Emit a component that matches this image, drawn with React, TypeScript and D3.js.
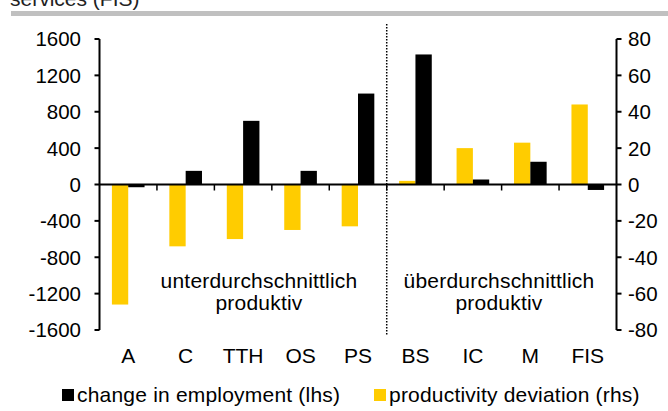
import React from "react";
import * as d3 from "d3";

const categories = ["A", "C", "TTH", "OS", "PS", "BS", "IC", "M", "FIS"];
const employment = [-30, 150, 700, 150, 1000, 1430, 55, 250, -60];
const productivity = [-66, -34, -30, -25, -23, 2, 20, 23, 44];
const leftTicks = [-1600, -1200, -800, -400, 0, 400, 800, 1200, 1600];
const rightTicks = [-80, -60, -40, -20, 0, 20, 40, 60, 80];
const seriesNames = ["productivity", "employment"];
const legendLabels = ["change in employment (lhs)", "productivity deviation (rhs)"];
const groupLabels = [
  ["unterdurchschnittlich", "produktiv"],
  ["überdurchschnittlich", "produktiv"],
];
const topTitle = "services (FIS)";

const W = 668;
const H = 411;
const FONT = "'Liberation Sans', Arial, sans-serif";
const YELLOW = "#FFCC00";

export default function App() {
  const x0 = d3.scaleBand<string>().domain(categories).range([99.5, 616.5]).paddingInner(0).paddingOuter(0);
  const x1 = d3.scaleBand<string>().domain(seriesNames).range([0, x0.bandwidth()]).paddingInner(0).paddingOuter(0.76);
  const yL = d3.scaleLinear().domain([-1600, 1600]).range([330, 39]);
  const yR = d3.scaleLinear().domain([-80, 80]).range([330, 39]);
  const zero = yL(0);
  const left = x0.range()[0];
  const right = x0.range()[1];
  const divider = x0("BS") as number;

  return (
    <svg width={W} height={H} style={{ position: "absolute", left: 0, top: 0, background: "#fff" }} fontFamily={FONT}>
      <text x={10} y={6} fontSize={21} fill="#222">{topTitle}</text>
      <rect x={11} y={11} width={W - 11} height={5} fill="#C0C0C0" />

      {/* bars */}
      {categories.map((c, i) => {
        const bx = x0(c) as number;
        const py = yR(productivity[i]);
        const ey = yL(employment[i]);
        return (
          <g key={c}>
            <rect x={bx + (x1("productivity") as number)} width={x1.bandwidth()} y={Math.min(py, zero)} height={Math.abs(py - zero)} fill={YELLOW} />
            <rect x={bx + (x1("employment") as number)} width={x1.bandwidth()} y={Math.min(ey, zero)} height={Math.abs(ey - zero)} fill="#000" />
          </g>
        );
      })}

      {/* zero line and category ticks */}
      <line x1={left} x2={right} y1={zero} y2={zero} stroke="#000" strokeWidth={2} />
      {categories.slice(1).map((c) => (
        <line key={c} x1={x0(c) as number} x2={x0(c) as number} y1={zero} y2={zero + 6} stroke="#000" strokeWidth={1.5} />
      ))}

      {/* divider */}
      <line x1={divider} x2={divider} y1={24} y2={335} stroke="#000" strokeWidth={1.5} strokeDasharray="1.5,1.5" />

      {/* left axis */}
      <line x1={left} x2={left} y1={yL(1600)} y2={yL(-1600)} stroke="#000" strokeWidth={2} />
      {leftTicks.map((t) => (
        <g key={t}>
          <line x1={left - 5} x2={left} y1={yL(t)} y2={yL(t)} stroke="#000" strokeWidth={2} />
          <text x={81} y={yL(t)} dy="0.36em" textAnchor="end" fontSize={20.5} fill="#000">{t}</text>
        </g>
      ))}

      {/* right axis */}
      <line x1={right} x2={right} y1={yR(80)} y2={yR(-80)} stroke="#000" strokeWidth={2} />
      {rightTicks.map((t) => (
        <g key={t}>
          <line x1={right} x2={right + 5} y1={yR(t)} y2={yR(t)} stroke="#000" strokeWidth={2} />
          <text x={628} y={yR(t)} dy="0.36em" textAnchor="start" fontSize={20.5} fill="#000">{t}</text>
        </g>
      ))}

      {/* category labels */}
      {categories.map((c) => (
        <text key={c} x={(x0(c) as number) + x0.bandwidth() / 2} y={363} textAnchor="middle" fontSize={21} fill="#000">{c}</text>
      ))}

      {/* group annotations */}
      {groupLabels.map((lines, gi) => {
        const cx = gi === 0 ? 259 : 499;
        return (
          <text key={gi} x={cx} textAnchor="middle" fontSize={21} letterSpacing={0.2} fill="#000">
            {lines.map((l, li) => (
              <tspan key={li} x={cx} y={288 + li * 22}>{l}</tspan>
            ))}
          </text>
        );
      })}

      {/* legend */}
      <rect x={62} y={389} width={12} height={12} fill="#000" />
      <text x={77} y={402} fontSize={21} letterSpacing={0.2} fill="#000">{legendLabels[0]}</text>
      <rect x={374} y={389} width={12} height={12} fill={YELLOW} />
      <text x={389} y={402} fontSize={21} letterSpacing={0.2} fill="#000">{legendLabels[1]}</text>
    </svg>
  );
}
